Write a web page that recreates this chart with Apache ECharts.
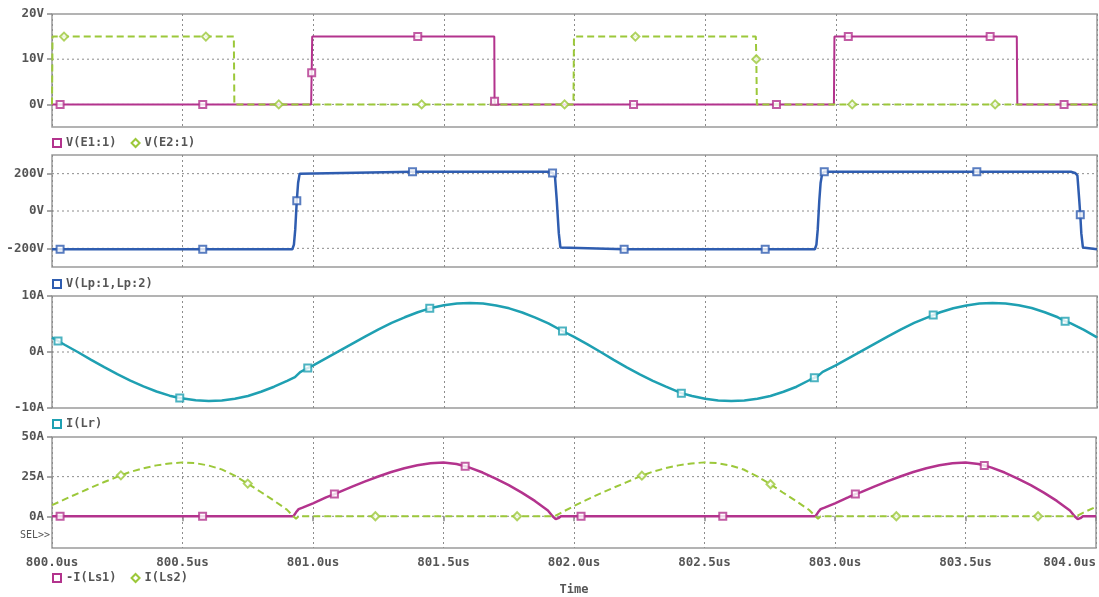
<!DOCTYPE html>
<html><head><meta charset="utf-8">
<script src="https://cdn.jsdelivr.net/npm/echarts@6/dist/echarts.min.js"></script>
<style>html,body{margin:0;padding:0;background:#fff}#c{width:1099px;height:597px}</style>
</head><body><div id="c"></div>
<script>
// ---------- data (time in us) ----------
const xMin = 800.0, xMax = 804.0, xStep = 0.5;

// Panel 1: V(E1:1), V(E2:1)
const tE1 = [800.000,800.031,800.577,800.992,800.993,800.994,800.996,801.400,801.693,801.694,801.696,802.226,802.773,802.993,802.995,803.048,803.591,803.693,803.695,803.874,804.000];
const vE1 = [0,0,0,0,4,7,15,15,15,0.7,0,0,0,0,15,15,15,15,0,0,0];
const mE1 = [800.031,800.577,800.994,801.400,801.694,802.226,802.773,803.048,803.591,803.874];

const tE2 = [800.000,800.002,800.046,800.589,800.696,800.698,800.868,801.415,801.962,801.996,801.998,802.233,802.694,802.696,802.698,803.063,803.610,804.000];
const vE2 = [0,15,15,15,15,0,0,0,0,0,15,15,15,10,0,0,0,0];
const mE2 = [800.046,800.589,800.868,801.415,801.962,802.233,802.696,803.063,803.610];

// Panel 2: V(Lp:1,Lp:2)
const tLp = [800.000,800.031,800.577,800.920,800.926,800.931,800.937,800.942,800.948,800.955,801.380,801.900,801.916,801.925,801.932,801.940,801.946,801.952,802.190,802.730,802.920,802.926,802.931,802.937,802.942,802.948,802.956,803.540,803.900,803.916,803.925,803.932,803.936,803.940,803.946,803.952,804.000];
const vLp = [-205,-205,-205,-205,-180,-100,55,150,200,210,210,210,204,190,60,-120,-195,-205,-205,-205,-205,-180,-100,55,150,200,210,210,210,204,190,60,-20,-120,-195,-205,-205];
const mLp = [800.031,800.577,800.937,801.380,801.916,802.190,802.730,802.956,803.540,803.936];

// Panel 3: I(Lr)
const tLr = [800.000,800.023,800.050,800.100,800.150,800.200,800.250,800.300,800.350,800.400,800.450,
  800.489,800.550,800.600,800.650,800.700,800.750,800.800,800.850,800.900,800.930,800.950,800.979,
  801.000,801.050,801.100,801.150,801.200,801.250,801.300,801.350,801.400,801.446,
  801.500,801.550,801.600,801.650,801.700,801.750,801.800,801.850,801.900,801.954,
  802.000,802.050,802.100,802.150,802.200,802.250,802.300,802.350,802.409,
  802.450,802.500,802.550,802.600,802.650,802.700,802.750,802.800,802.850,802.900,802.918,802.930,802.950,
  803.000,803.050,803.100,803.150,803.200,803.250,803.300,803.373,
  803.400,803.450,803.500,803.550,803.600,803.650,803.700,803.750,803.800,803.850,803.878,803.900,803.950,804.000];
const vLr = [2.55,1.96,1.25,-0.05,-1.4,-2.7,-3.95,-5.1,-6.15,-7.05,-7.8,
  -8.2,-8.62,-8.75,-8.65,-8.35,-7.85,-7.1,-6.2,-5.15,-4.5,-3.6,-2.86,
  -2.4,-1.1,0.2,1.5,2.8,4.05,5.2,6.2,7.1,7.8,
  8.35,8.65,8.75,8.65,8.3,7.8,7.05,6.15,5.1,3.75,
  2.65,1.35,0,-1.4,-2.75,-4.0,-5.15,-6.2,-7.35,
  -7.85,-8.35,-8.65,-8.75,-8.65,-8.35,-7.85,-7.1,-6.2,-5.0,-4.6,-4.35,-3.55,
  -2.4,-1.1,0.2,1.5,2.8,4.05,5.2,6.6,
  7.1,7.8,8.3,8.65,8.75,8.65,8.35,7.85,7.1,6.2,5.5,5.1,3.95,2.6];
const mLr = [800.023,800.489,800.979,801.446,801.954,802.409,802.918,803.373,803.878];

// Panel 4: -I(Ls1), I(Ls2)
const tLs1 = [800.000,800.031,800.577,800.925,800.935,800.945,800.960,
  801.000,801.050,801.082,801.100,801.150,801.200,801.250,801.300,801.350,801.400,801.450,801.500,801.550,801.583,801.600,801.650,801.700,801.750,801.800,801.850,801.900,801.918,801.930,801.940,801.950,
  802.027,802.570,802.925,802.935,802.945,802.960,
  803.000,803.050,803.078,803.100,803.150,803.200,803.250,803.300,803.350,803.400,803.450,803.500,803.550,803.572,803.600,803.650,803.700,803.750,803.800,803.850,803.900,803.918,803.930,803.940,803.950,804.000];
const vLs1 = [0,0,0,0,2.5,4.5,5.5,
  8.2,11.9,14.0,15.2,18.7,22.0,25.1,27.9,30.3,32.2,33.4,33.9,33.0,31.6,30.7,27.6,23.8,19.6,14.9,9.7,3.6,0,-1.8,-1.2,0,
  0,0,0,2.5,4.5,5.5,
  8.2,11.9,14.0,15.2,18.7,22.0,25.1,27.9,30.3,32.2,33.4,33.9,33.0,32.0,30.7,27.6,23.8,19.6,14.9,9.7,3.6,0,-1.8,-1.2,0,0];
const mLs1 = [800.031,800.577,801.082,801.583,802.027,802.570,803.078,803.572];

const tLs2 = [800.000,800.050,800.100,800.150,800.200,800.264,800.300,800.350,800.400,800.450,
  800.500,800.550,800.600,800.650,800.700,800.750,800.800,800.850,800.900,800.925,
  800.935,800.945,801.239,801.782,801.925,801.950,
  802.000,802.050,802.100,802.150,802.200,802.260,802.300,802.350,802.400,802.450,
  802.500,802.550,802.600,802.650,802.700,802.753,802.800,802.850,802.900,802.925,
  802.935,802.945,803.235,803.778,803.925,803.950,804.000];
const vLs2 = [7,10.8,14.5,18.1,21.6,25.8,28,30.3,32.1,33.3,
  34,33.5,32.0,29.6,25.6,20.6,15.3,9.9,4.2,0,
  -1.5,0,0,0,0,2.2,
  6.5,10.5,14.3,17.9,21.4,25.6,28,30.3,32.1,33.3,
  34,33.5,32.0,29.5,25.3,20.2,15.0,9.7,4.1,0,
  -1.5,0,0,0,0,2.2,6];
const mLs2 = [800.264,800.750,801.239,801.782,802.260,802.753,803.235,803.778];

// axes
const yRanges = [[-5,20],[-300,300],[-10,10],[-20,50]];
const yTicks = [[0,10,20],[-200,0,200],[-10,0,10],[0,25,50]];
const yUnits = ['V','V','A','A'];
const hGrid = [[0,10],[-200,0,200],[0],[0,25]];

// ---------- styling ----------
const C = {mag:'#b3338d', grn:'#9cc83a', blue:'#2f5db0', teal:'#1fa0b2', grid:'#8c8c8c', text:'#555555', border:'#9a9a9a'};
const MONO = 'DejaVu Sans Mono';
const gridPos = [[14,113],[155,112],[296,112],[437,112]];

function pts(t, v){ return t.map((x,i)=>[x, v[i]]); }
function marks(t, v, m){ return m.map(mt => { const i = t.findIndex(x => Math.abs(x-mt) < 1e-6); return [t[i], v[i]]; }); }

const defs = [
  {name:'V(E1:1)', g:0, t:tE1, v:vE1, m:mE1, color:C.mag, dash:'solid', sym:'emptyRect', w:2},
  {name:'V(E2:1)', g:0, t:tE2, v:vE2, m:mE2, color:C.grn, dash:[7,4], sym:'emptyDiamond', w:2},
  {name:'V(Lp:1,Lp:2)', g:1, t:tLp, v:vLp, m:mLp, color:C.blue, dash:'solid', sym:'emptyRect', w:2.5},
  {name:'I(Lr)', g:2, t:tLr, v:vLr, m:mLr, color:C.teal, dash:'solid', sym:'emptyRect', w:2.5},
  {name:'-I(Ls1)', g:3, t:tLs1, v:vLs1, m:mLs1, color:C.mag, dash:'solid', sym:'emptyRect', w:2.5},
  {name:'I(Ls2)', g:3, t:tLs2, v:vLs2, m:mLs2, color:C.grn, dash:[7,4], sym:'emptyDiamond', w:2}
];

const grids = gridPos.map(([top,h]) => ({left:52, top:top, width:1045, height:h, show:true,
  borderColor:C.border, borderWidth:1.5, backgroundColor:'#fff'}));

const xAxes = gridPos.map((_,i) => {
  const bottom = i === 3;
  return {
    type:'value', gridIndex:i, min:xMin, max:xMax, interval:xStep,
    axisLine:{show:false},
    axisTick:{show:bottom, length:5, lineStyle:{color:C.grid, width:1.5}},
    axisLabel:{show:bottom, formatter:v => v.toFixed(1)+'us', fontFamily:MONO, fontWeight:'bold',
      fontSize:12.5, color:C.text, margin:8, alignMaxLabel:'right'},
    splitLine:{show:true, lineStyle:{type:[2,3], color:C.grid, width:1}},
    name: bottom ? 'Time' : '', nameLocation:'middle', nameGap:36,
    nameTextStyle:{fontFamily:MONO, fontWeight:'bold', fontSize:12, color:C.text}
  };
});

const yAxes = gridPos.map((_,i) => ({
  type:'value', gridIndex:i, min:yRanges[i][0], max:yRanges[i][1],
  axisLine:{show:false},
  axisTick:{show:true, customValues:yTicks[i], length:5, lineStyle:{color:C.grid, width:1.5}},
  axisLabel:{customValues:yTicks[i], formatter:v => v + yUnits[i], fontFamily:MONO, fontWeight:'bold',
    fontSize:12.5, color:C.text, margin:8},
  splitLine:{show:false}
}));

const series = [];
hGrid.forEach((vals,i) => vals.forEach(v => series.push({
  type:'line', xAxisIndex:i, yAxisIndex:i, data:[[xMin,v],[xMax,v]], symbol:'none', silent:true, z:1,
  lineStyle:{type:[2,3], color:C.grid, width:1}
})));
defs.forEach(d => {
  series.push({
    name:d.name, type:'line', xAxisIndex:d.g, yAxisIndex:d.g, data:pts(d.t,d.v), symbol:'none',
    z:2, color:d.color, itemStyle:{color:d.color},
    lineStyle:{color:d.color, width:d.w, type:d.dash}
  });
  series.push({
    name:d.name+' markers', type:'scatter', xAxisIndex:d.g, yAxisIndex:d.g, data:marks(d.t,d.v,d.m),
    symbol:d.sym, symbolSize: d.sym === 'emptyDiamond' ? 8 : 7, z:3, silent:true,
    itemStyle:{color:d.color}
  });
});

const legendBase = {left:52, orient:'horizontal', itemWidth:8, itemHeight:8, itemGap:14, padding:0,
  selectedMode:false, textStyle:{fontFamily:MONO, fontWeight:'bold', fontSize:12, color:C.text}};
const legends = [
  Object.assign({}, legendBase, {top:137, data:[{name:'V(E1:1)', icon:'emptyRect'},{name:'V(E2:1)', icon:'emptyDiamond'}]}),
  Object.assign({}, legendBase, {top:278, data:[{name:'V(Lp:1,Lp:2)', icon:'emptyRect'}]}),
  Object.assign({}, legendBase, {top:418, data:[{name:'I(Lr)', icon:'emptyRect'}]}),
  Object.assign({}, legendBase, {top:572, data:[{name:'-I(Ls1)', icon:'emptyRect'},{name:'I(Ls2)', icon:'emptyDiamond'}]})
];

const chart = echarts.init(document.getElementById('c'));
chart.setOption({
  animation:false,
  backgroundColor:'#ffffff',
  grid:grids, xAxis:xAxes, yAxis:yAxes, legend:legends, series:series,
  graphic:[{type:'text', left:20, top:530, silent:true,
    style:{text:'SEL>>', font:'10px "DejaVu Sans Mono"', fill:C.text}}]
});
</script>
</body></html>
